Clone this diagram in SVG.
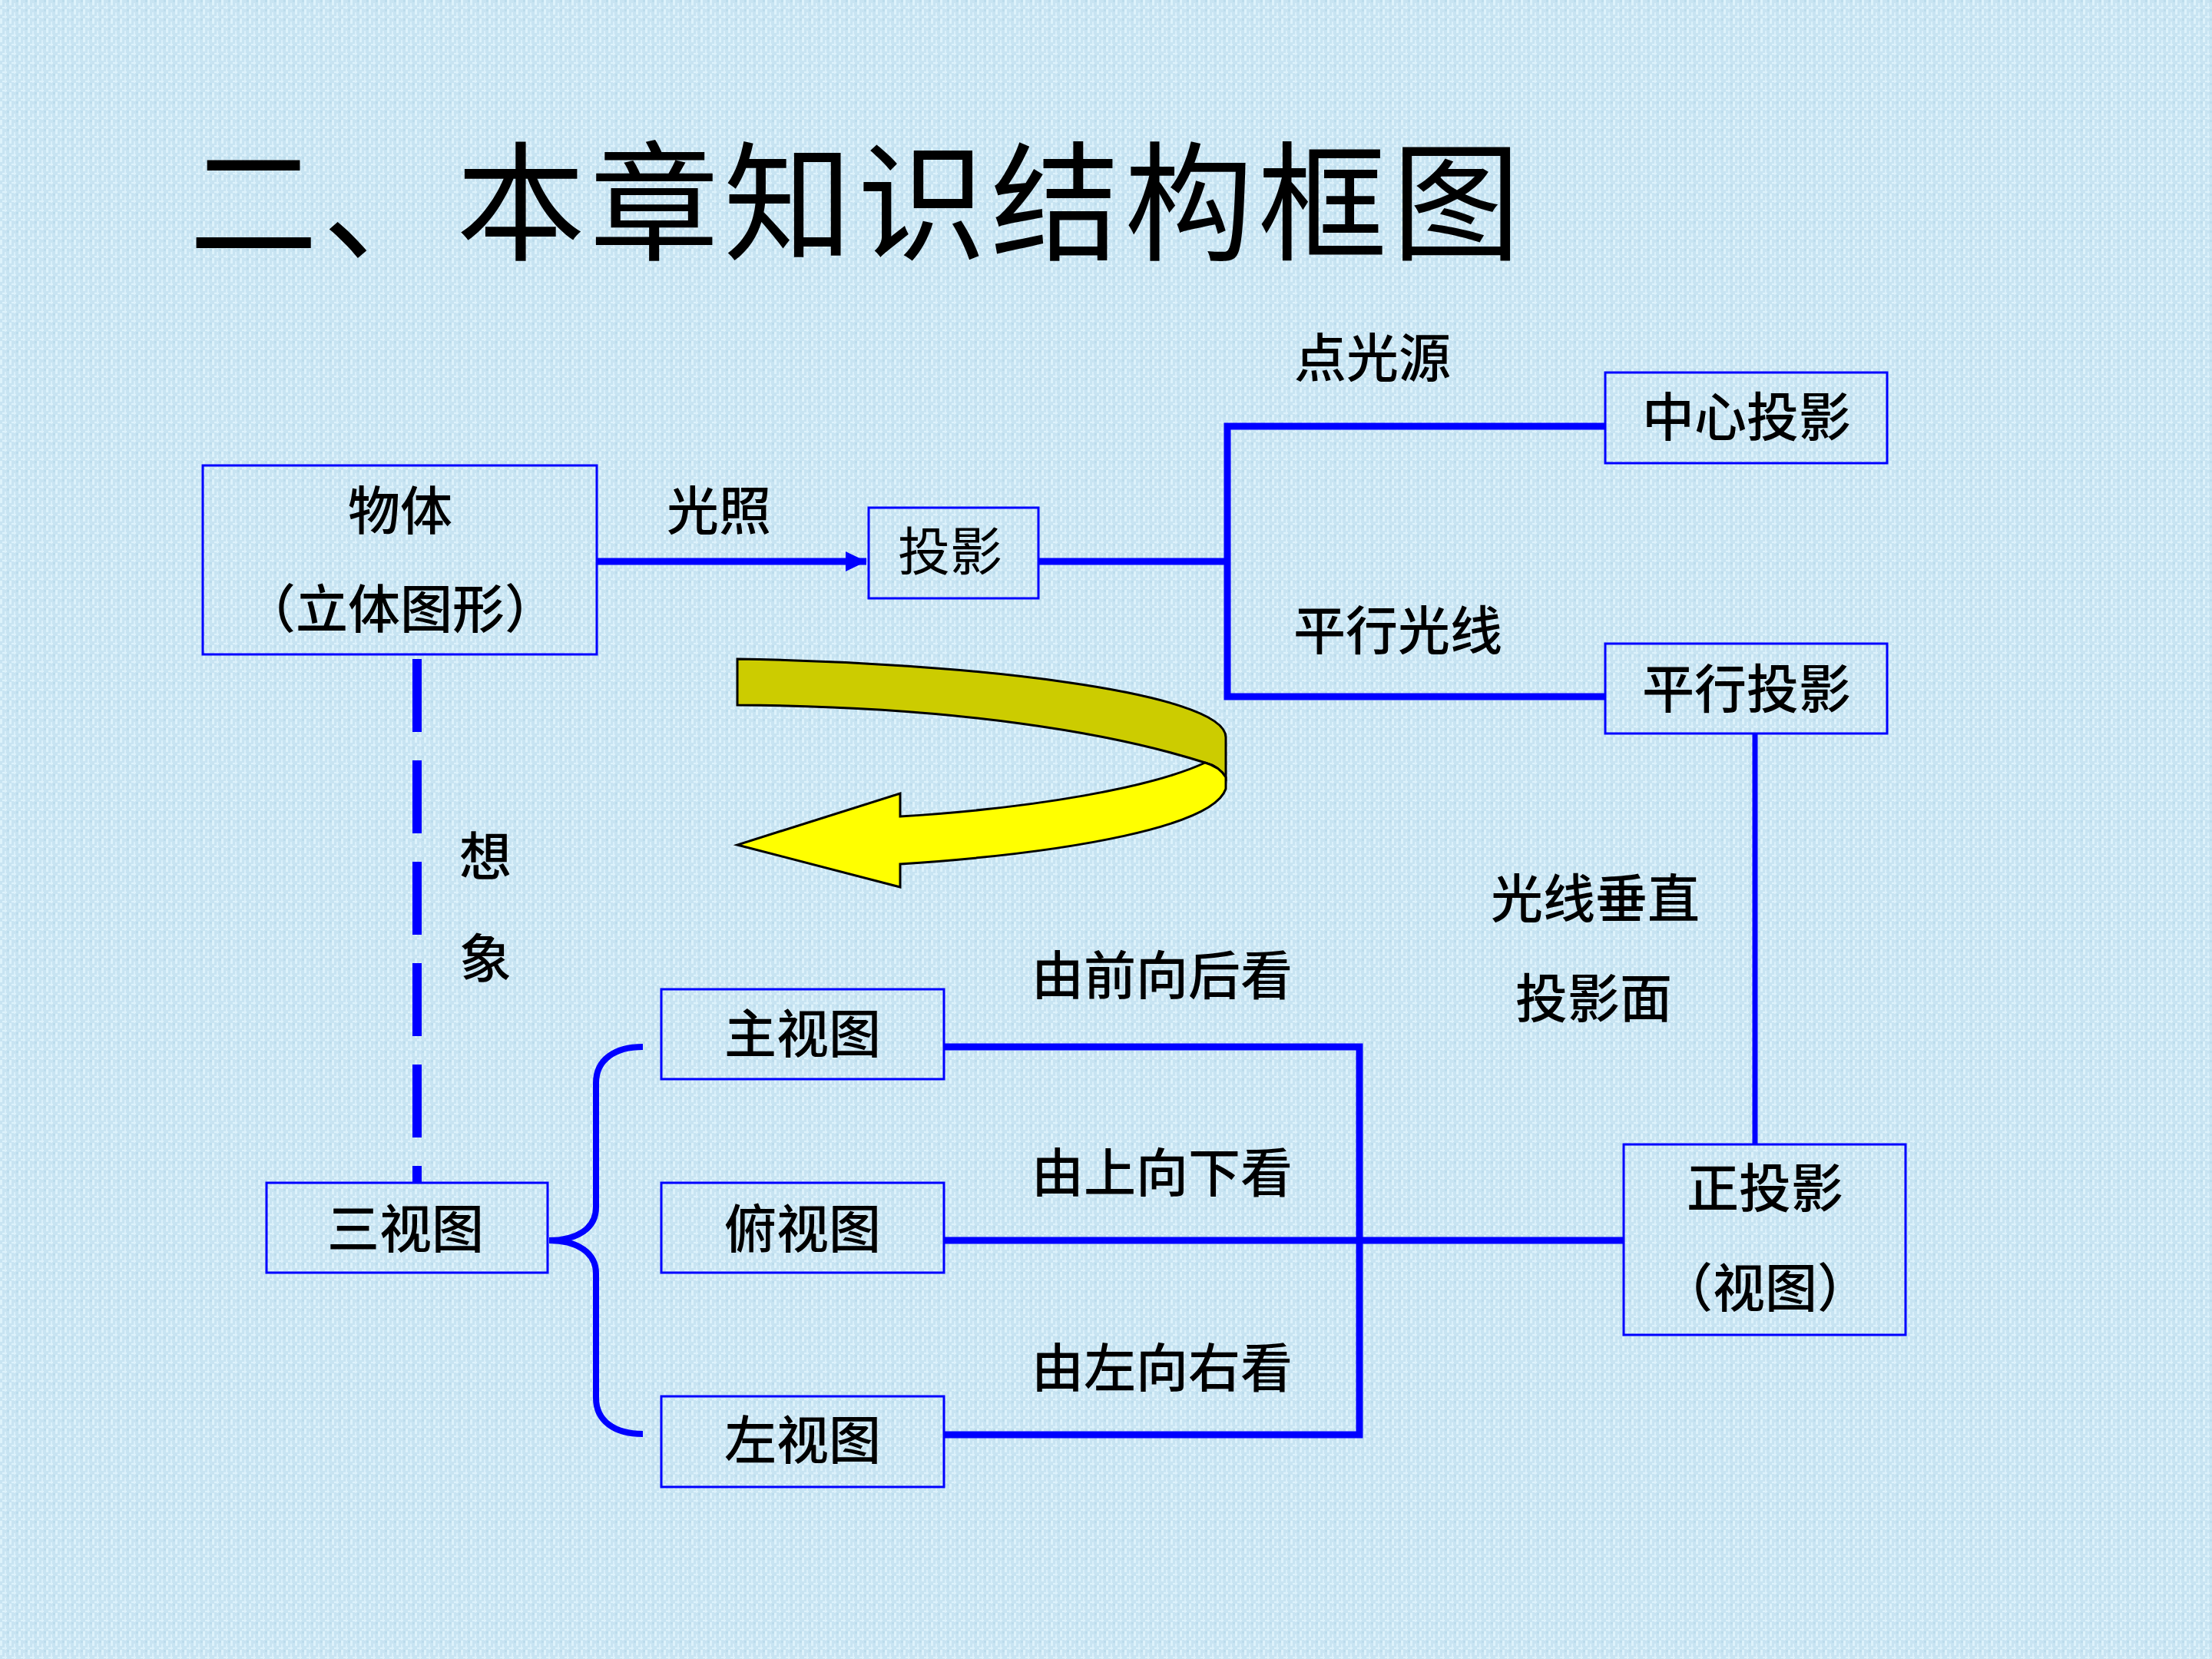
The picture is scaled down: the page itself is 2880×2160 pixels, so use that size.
<svg xmlns="http://www.w3.org/2000/svg" width="2880" height="2160" viewBox="0 0 2880 2160">
<defs>
<pattern id="tex" width="12" height="12" patternUnits="userSpaceOnUse">
<rect width="12" height="12" fill="#C8E4F2"/>
<rect x="0" y="0" width="3" height="7" fill="#DDF2FB"/>
<rect x="6" y="4" width="2" height="8" fill="#D9EFFA"/>
<rect x="3" y="9" width="6" height="2" fill="#DDF2FB"/>
<rect x="9" y="0" width="3" height="3" fill="#BCDCEC"/>
</pattern>
<marker id="ah" markerUnits="userSpaceOnUse" markerWidth="28" markerHeight="28" refX="27" refY="13" orient="auto">
<path d="M0,0 L27,13 L0,26 Z" fill="#0000FF"/>
</marker>
<style>
.box{fill:none;stroke:#0000FF;stroke-width:3}
.t{font-family:"Noto Sans CJK SC","Noto Sans CJK JP",sans-serif;font-size:68px;fill:#000;text-anchor:middle;font-weight:500}
.c{fill:none;stroke:#0000FF;stroke-width:9}
.title{font-family:"Noto Sans CJK SC",sans-serif;font-size:168px;fill:#000;letter-spacing:6px}
</style>
</defs>
<rect width="2880" height="2160" fill="url(#tex)"/>
<text class="title" x="246" y="326">二、本章知识结构框图</text>

<g id="connectors">
<path class="c" d="M777,731 H1128" marker-end="url(#ah)"/>
<path class="c" d="M1352,731 H1598"/>
<path class="c" d="M2090,555 H1598 V907 H2090"/>
<path class="c" d="M2285,956 V1490" style="stroke-width:7"/>
<path class="c" d="M543,858 V1540" style="stroke-width:12;stroke-dasharray:95 37"/>
<path class="c" d="M837,1363 C800,1363 776,1380 776,1410 V1572 C776,1600 750,1615 715,1615 C750,1615 776,1630 776,1658 V1820 C776,1850 800,1867 837,1867" style="stroke-width:8"/>
<path class="c" d="M1229,1363 H1770 V1868 H1229"/>
<path class="c" d="M1229,1615 H2114"/>
</g>

<g id="labels">
<text class="t" x="936" y="690">光照</text>
<text class="t" x="1787" y="491">点光源</text>
<text class="t" x="1820" y="846">平行光线</text>
<text class="t" x="2077" y="1195">光线垂直</text>
<text class="t" x="2075" y="1325">投影面</text>
<text class="t" x="632" y="1140">想</text>
<text class="t" x="632" y="1273">象</text>
<text class="t" x="1513" y="1295">由前向后看</text>
<text class="t" x="1513" y="1552">由上向下看</text>
<text class="t" x="1513" y="1806">由左向右看</text>
</g>

<g id="arrow3d" stroke="#000" stroke-width="3" stroke-linejoin="miter">
<path d="M960,858 C1250,862 1596,900 1596,960 L1596,1012 C1590,1002 1580,996 1569,993 C1450,955 1250,920 960,918 Z" fill="#CCCC00"/>
<path d="M1569,993 C1500,1025 1350,1052 1172,1063 L1172,1033 L960,1100 L1172,1155 L1172,1125 C1400,1110 1580,1075 1596,1027 L1596,1012 C1590,1002 1580,996 1569,993 Z" fill="#FFFF00"/>
</g>

<g id="node-wuti">
<rect class="box" x="264" y="606" width="513" height="246"/>
<text class="t" x="521" y="690">物体</text>
<text class="t" x="521" y="818">（立体图形）</text>
</g>
<g id="node-touying">
<rect class="box" x="1131" y="661" width="221" height="118"/>
<text class="t" x="1237" y="743" style="font-weight:400">投影</text>
</g>
<g id="node-zhongxin">
<rect class="box" x="2090" y="485" width="367" height="118"/>
<text class="t" x="2274" y="568">中心投影</text>
</g>
<g id="node-pingxing">
<rect class="box" x="2090" y="838" width="367" height="117"/>
<text class="t" x="2274" y="922">平行投影</text>
</g>
<g id="node-zheng">
<rect class="box" x="2114" y="1490" width="367" height="248"/>
<text class="t" x="2298" y="1572">正投影</text>
<text class="t" x="2298" y="1702">（视图）</text>
</g>
<g id="node-sanshitu">
<rect class="box" x="347" y="1540" width="366" height="117"/>
<text class="t" x="528" y="1625">三视图</text>
</g>
<g id="node-zhushitu">
<rect class="box" x="861" y="1288" width="368" height="117"/>
<text class="t" x="1045" y="1371">主视图</text>
</g>
<g id="node-fushitu">
<rect class="box" x="861" y="1540" width="368" height="117"/>
<text class="t" x="1045" y="1625">俯视图</text>
</g>
<g id="node-zuoshitu">
<rect class="box" x="861" y="1818" width="368" height="118"/>
<text class="t" x="1045" y="1900">左视图</text>
</g>
</svg>
